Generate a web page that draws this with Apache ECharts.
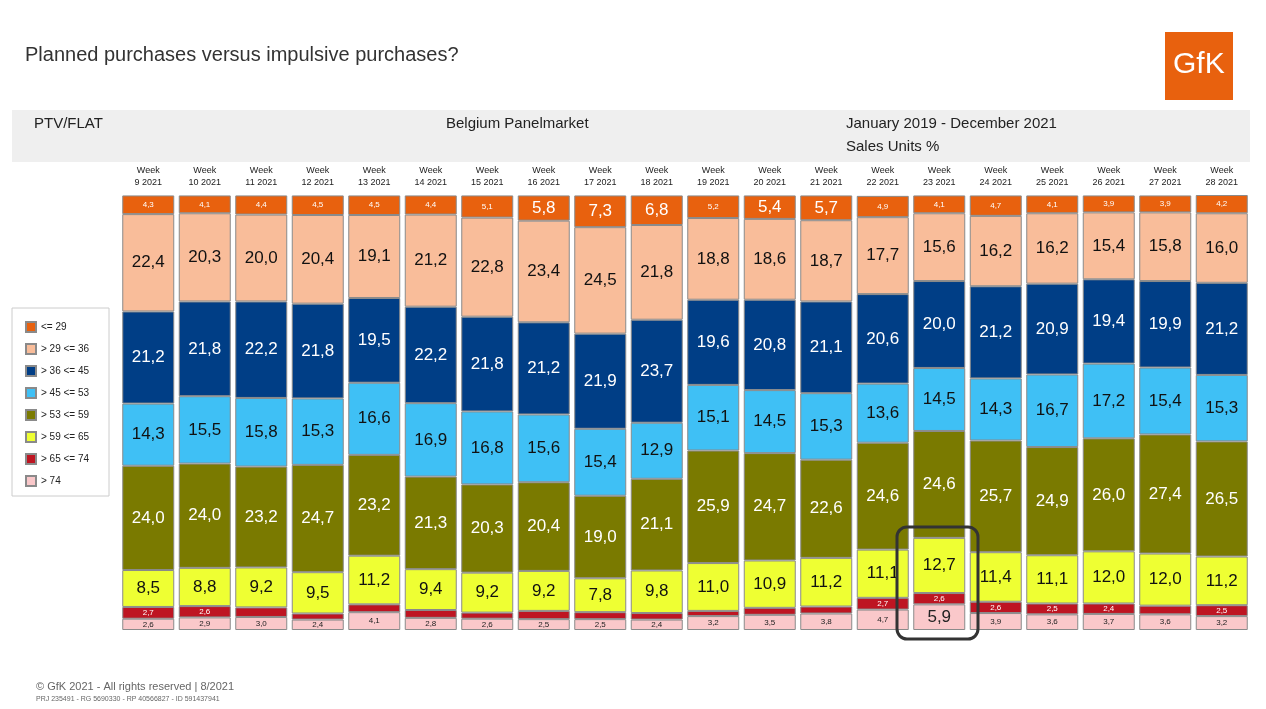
<!DOCTYPE html>
<html>
<head>
<meta charset="utf-8">
<script src="https://cdn.jsdelivr.net/npm/echarts@6/dist/echarts.min.js"></script>
<style>
  html, body { margin: 0; padding: 0; background: #fff; }
  #chart { width: 1266px; height: 709px; }
</style>
</head>
<body>
<div id="chart"></div>
<script>
// weeks
const weeks = [9, 10, 11, 12, 13, 14, 15, 16, 17, 18, 19, 20, 21, 22, 23, 24, 25, 26, 27, 28];
const categories = weeks.map(function (w) { return 'Week\n' + w + ' 2021'; });

// shares per age band, bottom to top of the stack
const over74   = [2.6, 2.9, 3.0, 2.4, 4.1, 2.8, 2.6, 2.5, 2.5, 2.4, 3.2, 3.5, 3.8, 4.7, 5.9, 3.9, 3.6, 3.7, 3.6, 3.2];
const s65to74  = [2.7, 2.6, 2.2, 1.4, 1.8, 1.8, 1.4, 1.9, 1.6, 1.5, 1.2, 1.6, 1.6, 2.7, 2.6, 2.6, 2.5, 2.4, 2.0, 2.5];
const s59to65  = [8.5, 8.8, 9.2, 9.5, 11.2, 9.4, 9.2, 9.2, 7.8, 9.8, 11.0, 10.9, 11.2, 11.1, 12.7, 11.4, 11.1, 12.0, 12.0, 11.2];
const s53to59  = [24.0, 24.0, 23.2, 24.7, 23.2, 21.3, 20.3, 20.4, 19.0, 21.1, 25.9, 24.7, 22.6, 24.6, 24.6, 25.7, 24.9, 26.0, 27.4, 26.5];
const s45to53  = [14.3, 15.5, 15.8, 15.3, 16.6, 16.9, 16.8, 15.6, 15.4, 12.9, 15.1, 14.5, 15.3, 13.6, 14.5, 14.3, 16.7, 17.2, 15.4, 15.3];
const s36to45  = [21.2, 21.8, 22.2, 21.8, 19.5, 22.2, 21.8, 21.2, 21.9, 23.7, 19.6, 20.8, 21.1, 20.6, 20.0, 21.2, 20.9, 19.4, 19.9, 21.2];
const s29to36  = [22.4, 20.3, 20.0, 20.4, 19.1, 21.2, 22.8, 23.4, 24.5, 21.8, 18.8, 18.6, 18.7, 17.7, 15.6, 16.2, 16.2, 15.4, 15.8, 16.0];
const upTo29   = [4.3, 4.1, 4.4, 4.5, 4.5, 4.4, 5.1, 5.8, 7.3, 6.8, 5.2, 5.4, 5.7, 4.9, 4.1, 4.7, 4.1, 3.9, 3.9, 4.2];

const bands = [
  { name: '> 74',      data: over74,  color: '#FAC8CA', text: '#222' },
  { name: '> 65 <= 74', data: s65to74, color: '#BE1522', text: '#fff' },
  { name: '> 59 <= 65', data: s59to65, color: '#EEFF33', text: '#111' },
  { name: '> 53 <= 59', data: s53to59, color: '#7A7A00', text: '#fff' },
  { name: '> 45 <= 53', data: s45to53, color: '#3FC0F5', text: '#111' },
  { name: '> 36 <= 45', data: s36to45, color: '#003E86', text: '#fff' },
  { name: '> 29 <= 36', data: s29to36, color: '#F9BD9A', text: '#111' },
  { name: '<= 29',     data: upTo29,  color: '#E8610E', text: '#fff' }
];

const chart = echarts.init(document.getElementById('chart'));

const series = bands.map(function (b) {
  return {
    name: b.name,
    type: 'bar',
    stack: 'all',
    barWidth: 52,
    itemStyle: { color: b.color, borderColor: '#8a8a8a', borderWidth: 1 },
    data: b.data.map(function (v) {
      const big = v >= 5.4;
      return {
        value: v,
        label: {
          show: v >= 2.35,
          fontSize: big ? 17 : 8,
          color: b.text
        }
      };
    }),
    label: {
      position: 'inside',
      fontFamily: 'Arial, Liberation Sans, sans-serif',
      formatter: function (p) { return String(p.value.toFixed(1)).replace('.', ','); }
    }
  };
});

const option = {
  backgroundColor: '#ffffff',
  animation: false,
  textStyle: { fontFamily: 'Liberation Sans, Arial, sans-serif' },
  title: {
    text: 'Planned purchases versus impulsive purchases?',
    left: 20, top: 40,
    textStyle: { fontSize: 20, fontWeight: 'normal', color: '#333' }
  },
  legend: {
    orient: 'vertical',
    left: 20, top: 316,
    itemWidth: 10, itemHeight: 10, itemGap: 10,
    icon: 'rect',
    data: bands.slice().reverse().map(function (b) { return b.name; }),
    textStyle: { fontSize: 10, color: '#222' }
  },
  grid: { left: 120, right: 16, top: 195, bottom: 79 },
  xAxis: {
    type: 'category',
    position: 'top',
    data: categories,
    axisLine: { show: false },
    axisTick: { show: false },
    axisLabel: { fontSize: 9, color: '#222', margin: 6, lineHeight: 12, interval: 0 }
  },
  yAxis: { type: 'value', min: 0, max: 100.1, show: false },
  series: series,
  graphic: [
    { type: 'rect', shape: { x: 12, y: 110, width: 1238, height: 52 }, style: { fill: '#efefef' }, z: -10 },
    { type: 'text', left: 34, top: 116, style: { text: 'PTV/FLAT', fontSize: 15, fill: '#222' } },
    { type: 'text', left: 446, top: 116, style: { text: 'Belgium Panelmarket', fontSize: 15, fill: '#222' } },
    { type: 'text', left: 846, top: 116, style: { text: 'January 2019 - December 2021', fontSize: 15, fill: '#222' } },
    { type: 'text', left: 846, top: 139, style: { text: 'Sales Units %', fontSize: 15, fill: '#222' } },
    { type: 'rect', shape: { x: 12, y: 308, width: 97, height: 188 }, style: { fill: 'none', stroke: '#ccc', lineWidth: 1 } },
    { type: 'rect', shape: { x: 1165, y: 32, width: 68, height: 68 }, style: { fill: '#E8610E' } },
    { type: 'text', left: 1173, top: 50, style: { text: 'GfK', fontSize: 30, fill: '#fff' } },
    { type: 'rect', shape: { x: 897, y: 527, width: 81, height: 112, r: 10 }, style: { fill: 'none', stroke: '#333', lineWidth: 3 }, z: 100 },
    { type: 'text', left: 36, top: 681, style: { text: '© GfK 2021 - All rights reserved | 8/2021', fontSize: 11, fill: '#666' } },
    { type: 'text', left: 36, top: 696, style: { text: 'PRJ 235491 - RG 5690330 - RP 40566827 - ID 591437941', fontSize: 7, fill: '#666' } }
  ]
};

chart.setOption(option);
</script>
</body>
</html>
